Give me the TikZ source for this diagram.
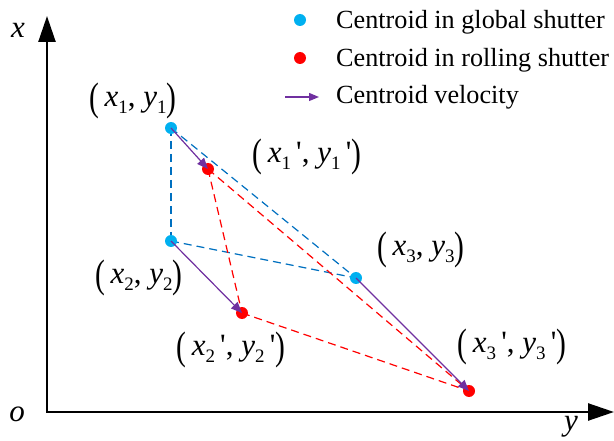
\documentclass[tikz,border=0pt]{standalone}
\usepackage{fontspec}
\setmainfont{Liberation Serif}[ItalicFont={Liberation Serif Italic}]
\newfontfamily\timesf{Liberation Serif}[ItalicFont={Liberation Serif Italic}]
\newfontfamily\timesi{Liberation Serif Italic}
\usetikzlibrary{arrows.meta}
\definecolor{gsdot}{RGB}{0,176,240}
\definecolor{gsline}{RGB}{0,112,192}
\definecolor{rsred}{RGB}{255,0,0}
\definecolor{velo}{RGB}{112,48,160}
\newcommand{\sbs}[1]{\raisebox{-0.22em}{\fontsize{19}{19}\selectfont #1}}
\newcommand{\bigpar}[1]{\raisebox{-0.14em}{\scalebox{0.95}[1.28]{#1}}}
\newcommand{\iv}[1]{{\timesi #1}}
\newcommand{\clbl}[2]{\bigpar{(}\,\iv{x}\sbs{#1}#2, \iv{y}\sbs{#1}#2\bigpar{)}}
\newcommand{\prm}{\,\textquotesingle}
\tikzset{
  txt/.style={font=\timesf\fontsize{26.2}{30}\selectfont, inner sep=0pt},
  lbl/.style={font=\timesf\fontsize{31}{34}\selectfont, inner sep=0pt},
  gsdotst/.style={circle, fill=gsdot, inner sep=0pt, minimum size=12pt},
  rsdotst/.style={circle, fill=rsred, inner sep=0pt, minimum size=12pt},
  gsdash/.style={gsline, line width=1.2pt, dash pattern=on 8pt off 5pt},
  rsdash/.style={rsred, line width=1.2pt, dash pattern=on 8pt off 5pt},
  velarrow/.style={velo, line width=1.2pt, -{Triangle[length=11pt,width=9pt]}},
  axisline/.style={black, line width=2.5pt, -{Triangle[length=26pt,width=17pt]}}
}
\begin{document}
\begin{tikzpicture}[x=1pt,y=-1pt]
\useasboundingbox (0,0) rectangle (614,441);
% axes
\coordinate (O) at (47,412);
\coordinate (XT) at (47,16);
\coordinate (YT) at (614,412);
\draw[axisline] (O) -- (XT);
\draw[axisline] (46,412) -- (YT);
\node[lbl] (xl) at (18,30) {\iv{x}};
\node[lbl] (ol) at (17,414) {\iv{o}};
\node[lbl] (yl) at (571,427) {\iv{y}};
% points
\coordinate (P1) at (171,128);
\coordinate (P2) at (171,241);
\coordinate (P3) at (356,278);
\coordinate (Q1) at (208,169);
\coordinate (Q2) at (242,313);
\coordinate (Q3) at (469,391);
% dashed lines
\draw[gsdash] (P1) -- (P2);
\draw[gsdash] (P2) -- (P3);
\draw[gsdash] (P1) -- (P3);
\draw[rsdash] (Q1) -- (Q2);
\draw[rsdash] (Q2) -- (Q3);
\draw[rsdash] (Q1) -- (Q3);
% dots
\node[gsdotst] (g1) at (P1) {};
\node[gsdotst] (g2) at (P2) {};
\node[gsdotst] (g3) at (P3) {};
\node[rsdotst] (r1) at (Q1) {};
\node[rsdotst] (r2) at (Q2) {};
\node[rsdotst] (r3) at (Q3) {};
% velocity arrows
\draw[velarrow] (g1.center) -- (r1.center);
\draw[velarrow] (g2.center) -- (r2.center);
\draw[velarrow] (g3.center) -- (r3.center);
% labels
\node[lbl] (l1) at (133,101) {\clbl{1}{}};
\node[lbl] (l1p) at (307,157) {\clbl{1}{\prm}};
\node[lbl] (l2) at (139,278) {\clbl{2}{}};
\node[lbl] (l2p) at (231,350) {\clbl{2}{\prm}};
\node[lbl] (l3) at (421,250) {\clbl{3}{}};
\node[lbl] (l3p) at (512,347) {\clbl{3}{\prm}};
% legend
\node[gsdotst] (lg1) at (300,20) {};
\node[rsdotst] (lg2) at (300,58) {};
\coordinate (la0) at (285,97);
\coordinate (la1) at (319,97);
\draw[velo, line width=1.2pt, -{Triangle[length=10pt,width=8pt]}] (la0) -- (la1);
\node[txt, anchor=west] (t1) at (336,22) {Centroid in global shutter};
\node[txt, anchor=west] (t2) at (336,60) {Centroid in rolling shutter};
\node[txt, anchor=west] (t3) at (336,97) {Centroid velocity};
\end{tikzpicture}
\end{document}
